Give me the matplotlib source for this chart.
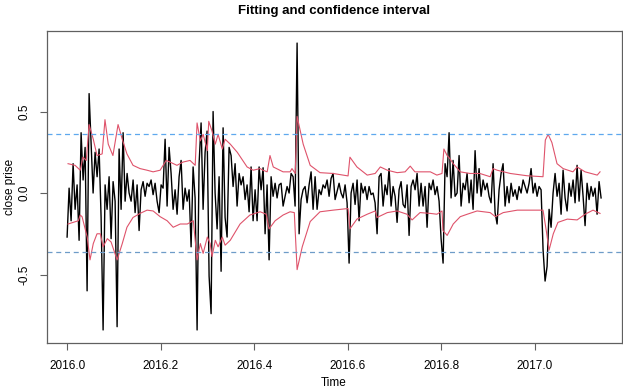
import numpy as np
import matplotlib
matplotlib.use('Agg')
import matplotlib.pyplot as plt

plt.rcParams['font.family'] = ['Liberation Sans', 'DejaVu Sans']

# series start and sampling (like an R ts object)
start_year = 2016.0
freq = 233.75

close_fit = [
    -0.27, 0.03, -0.17, 0.18, -0.10, 0.05, -0.29, 0.37, 0.08, 0.28, -0.60, 0.61,
    0.31, 0.00, 0.25, 0.10, 0.27, -0.15, -0.84, 0.05, -0.10, 0.10,
    -0.28, 0.07, -0.05, -0.82, 0.27, -0.10, 0.37, -0.05, 0.12, 0.00,
    -0.05, 0.08, -0.12, 0.05, -0.23, 0.02, 0.07, -0.02, 0.06, 0.04,
    0.08, -0.01, 0.06, -0.05, -0.12, 0.05, 0.03, 0.33, -0.08, 0.28,
    0.12, -0.10, 0.02, -0.13, 0.10, 0.20, -0.10, 0.03, -0.05, 0.02,
    -0.33, 0.16, -0.03, -0.84, 0.18, 0.43, -0.10, 0.25, 0.38, -0.51,
    -0.74, 0.50, 0.00, -0.22, 0.10,
    -0.48, 0.40, -0.15, -0.27, 0.28, 0.23, 0.04, 0.18, -0.08, 0.12,
    0.05, 0.10, -0.04, 0.05, -0.115, 0.16, -0.17, 0.02, -0.17, 0.16,
    0.02, 0.155, -0.25, 0.05, -0.41, 0.10, -0.02, 0.06, -0.03, 0.05,
    0.06, -0.08, -0.02, 0.04, 0.00, 0.12, 0.10, -0.08, 0.92, -0.25,
    -0.04, 0.02, 0.04, -0.06, 0.05, 0.13, -0.10, 0.10, -0.10, 0.02,
    -0.01, 0.05, 0.03, 0.08, -0.02, 0.09, 0.12, -0.04, 0.01, 0.06,
    0.00, -0.03, 0.05, -0.06, -0.43, 0.00, 0.06, -0.07, 0.08, -0.17,
    0.06, 0.00, 0.04, -0.04, 0.04, -0.01, 0.00, -0.06, -0.25, 0.10,
    0.12, -0.08, 0.05, -0.01, 0.15, -0.08, 0.04, -0.02, -0.18, 0.02,
    0.07, -0.07, -0.09, 0.05, -0.26, 0.04, 0.08, 0.02, 0.12, -0.08,
    0.06, -0.08, 0.04, -0.21, 0.06, 0.02, 0.08, -0.01, 0.04, -0.05,
    -0.28, -0.43, 0.18, 0.10, 0.37, -0.03, 0.20, -0.02, 0.00, 0.23,
    -0.08, 0.06, 0.02, 0.12, -0.06, 0.08, -0.10, 0.26, 0.00, 0.15,
    -0.02, 0.08, 0.02, 0.06, -0.02, -0.06, 0.18, -0.12, -0.19, 0.02,
    0.12, 0.18, -0.08, 0.04, -0.06, 0.06, -0.02, 0.02, -0.04, 0.04,
    0.00, 0.08, 0.04, 0.00, 0.06, 0.15, 0.00, 0.06, -0.02, 0.04,
    0.02, -0.35, -0.54, -0.45, -0.10, -0.21, 0.00, 0.12, -0.02, 0.06,
    -0.13, 0.14, -0.03, -0.11, 0.06, -0.02, 0.08, -0.06, 0.17, -0.05,
    0.14, -0.02, -0.20, 0.06, -0.04, 0.04, -0.02, 0.03, -0.13, 0.07,
    -0.03,
]

upper_t = [
    2016.002, 2016.017, 2016.028, 2016.034, 2016.041, 2016.047, 2016.056, 2016.064,
    2016.075, 2016.081, 2016.088, 2016.098, 2016.109, 2016.118, 2016.128, 2016.141,
    2016.156, 2016.171, 2016.184, 2016.199, 2016.212, 2016.220, 2016.235, 2016.248,
    2016.263, 2016.274, 2016.278, 2016.285, 2016.291, 2016.300, 2016.303, 2016.310,
    2016.317, 2016.323, 2016.332, 2016.338, 2016.349, 2016.364, 2016.385, 2016.398,
    2016.413, 2016.419, 2016.428, 2016.434, 2016.441, 2016.462, 2016.477, 2016.481,
    2016.488, 2016.492, 2016.505, 2016.520, 2016.541, 2016.569, 2016.601, 2016.605,
    2016.620, 2016.642, 2016.659, 2016.670, 2016.685, 2016.706, 2016.723, 2016.734,
    2016.744, 2016.762, 2016.777, 2016.791, 2016.802, 2016.806, 2016.813, 2016.819,
    2016.826, 2016.841, 2016.862, 2016.883, 2016.905, 2016.911, 2016.920, 2016.948,
    2016.984, 2017.018, 2017.023, 2017.029, 2017.037, 2017.048, 2017.061, 2017.082,
    2017.091, 2017.108, 2017.134, 2017.140,
]
upper_v = [
    0.18, 0.17, 0.14, 0.22, 0.20, 0.42, 0.33, 0.23,
    0.24, 0.45, 0.30, 0.23, 0.42, 0.33, 0.24, 0.17,
    0.15, 0.14, 0.13, 0.14, 0.20, 0.19, 0.17, 0.19,
    0.20, 0.17, 0.43, 0.32, 0.36, 0.26, 0.44, 0.38,
    0.30, 0.36, 0.27, 0.33, 0.30, 0.25, 0.16, 0.14,
    0.15, 0.14, 0.13, 0.23, 0.16, 0.13, 0.13, 0.15,
    0.12, 0.47, 0.30, 0.17, 0.125, 0.12, 0.105, 0.22,
    0.16, 0.11, 0.12, 0.16, 0.14, 0.125, 0.13, 0.165,
    0.13, 0.13, 0.13, 0.11, 0.12, 0.27, 0.23, 0.21,
    0.18, 0.13, 0.12, 0.12, 0.10, 0.15, 0.14, 0.12,
    0.106, 0.10, 0.325, 0.36, 0.31, 0.18, 0.15, 0.13,
    0.16, 0.13, 0.11, 0.13,
]

lower_t = [
    2016.002, 2016.024, 2016.028, 2016.032, 2016.043, 2016.049, 2016.056, 2016.064,
    2016.071, 2016.077, 2016.086, 2016.094, 2016.107, 2016.118, 2016.128, 2016.141,
    2016.156, 2016.171, 2016.184, 2016.199, 2016.214, 2016.227, 2016.242, 2016.257,
    2016.270, 2016.278, 2016.285, 2016.291, 2016.300, 2016.306, 2016.310, 2016.317,
    2016.323, 2016.332, 2016.338, 2016.349, 2016.370, 2016.391, 2016.413, 2016.426,
    2016.432, 2016.445, 2016.462, 2016.477, 2016.486, 2016.492, 2016.503, 2016.520,
    2016.541, 2016.569, 2016.601, 2016.605, 2016.620, 2016.642, 2016.659, 2016.663,
    2016.685, 2016.706, 2016.727, 2016.738, 2016.755, 2016.777, 2016.791, 2016.802,
    2016.804, 2016.813, 2016.826, 2016.841, 2016.856, 2016.877, 2016.905, 2016.916,
    2016.933, 2016.963, 2017.018, 2017.025, 2017.031, 2017.040, 2017.050, 2017.070,
    2017.091, 2017.108, 2017.125, 2017.140,
]
lower_v = [
    -0.19, -0.17, -0.135, -0.145, -0.27, -0.41, -0.31, -0.25,
    -0.25, -0.33, -0.28, -0.30, -0.41, -0.31, -0.21, -0.15,
    -0.125, -0.105, -0.11, -0.145, -0.17, -0.21, -0.19, -0.19,
    -0.17, -0.41, -0.31, -0.37, -0.27, -0.31, -0.39, -0.29,
    -0.33, -0.27, -0.32, -0.29, -0.19, -0.135, -0.115, -0.13,
    -0.22, -0.17, -0.135, -0.115, -0.12, -0.47, -0.33, -0.175,
    -0.115, -0.105, -0.095, -0.22, -0.16, -0.13, -0.11, -0.15,
    -0.12, -0.11, -0.13, -0.165, -0.12, -0.125, -0.13, -0.11,
    -0.23, -0.26, -0.19, -0.145, -0.13, -0.11, -0.12, -0.145,
    -0.12, -0.105, -0.105, -0.23, -0.35, -0.25, -0.18, -0.16,
    -0.165, -0.13, -0.105, -0.125,
]

hlines = [0.36, -0.36]

t = start_year + np.arange(len(close_fit)) / freq

fig = plt.figure(figsize=(6.23, 3.90), dpi=100)
ax = fig.add_axes([47 / 623, 1 - 343 / 390, 575 / 623, 312 / 390])

ax.plot(t, close_fit, color='black', lw=1.0)
ax.plot(upper_t, upper_v, color='#DF536B', lw=0.8)
ax.plot(lower_t, lower_v, color='#DF536B', lw=0.8)
ax.axhline(hlines[0], color='#5EA8EE', lw=0.9, ls=(0, (4, 3)))
ax.axhline(hlines[1], color='#6E9CC8', lw=0.9, ls=(0, (4, 3)))

ax.set_xlim(2015.957, 2017.187)
ax.set_ylim(-0.92, 0.994)
ax.set_xticks([2016.0, 2016.2, 2016.4, 2016.6, 2016.8, 2017.0])
ax.set_xticklabels(['2016.0', '2016.2', '2016.4', '2016.6', '2016.8', '2017.0'])
ax.set_yticks([-0.5, 0.0, 0.5])
ax.set_yticklabels(['-0.5', '0.0', '0.5'], rotation=90, va='center')

for s in ax.spines.values():
    s.set_color('#606060')
    s.set_linewidth(0.9)
ax.tick_params(length=5, width=0.8, color='#606060', labelsize=8.5, pad=7)

# axis titles placed like R's default margins
fig.text(334 / 623, 1 - 383 / 390, 'Time', fontsize=8.5, ha='center', va='center')
fig.text(10 / 623, 1 - 187 / 390, 'close prise', fontsize=8.5, ha='center', va='center',
         rotation=90)
ax.set_title('Fitting and confidence interval', fontsize=9.5, fontweight='bold', pad=12)

fig.savefig('out.png', dpi=100)
